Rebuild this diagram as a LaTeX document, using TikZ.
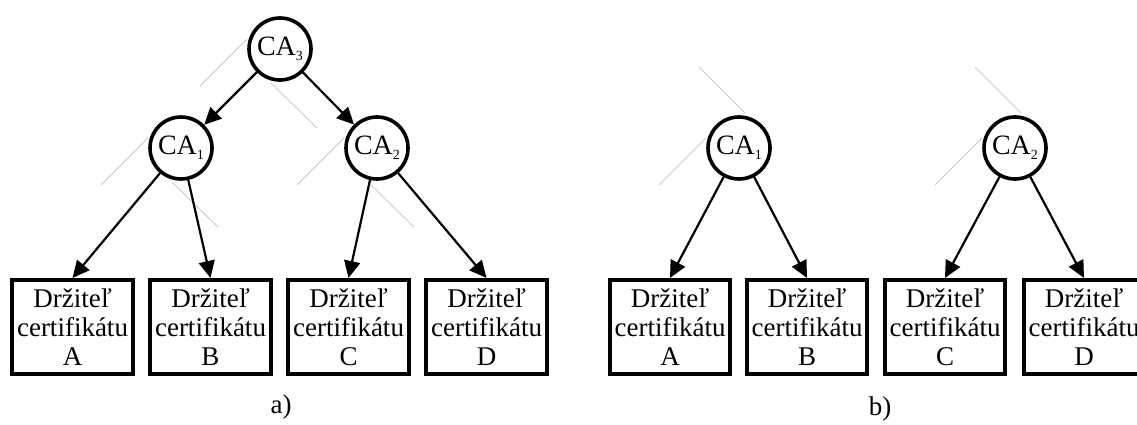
\documentclass[tikz,border=0pt]{standalone}
\usepackage{fontspec}
\setmainfont{Liberation Serif}
\usetikzlibrary{arrows.meta}
\newcommand{\casub}[1]{CA\raisebox{-5pt}{\fontsize{14}{14}\selectfont #1}}
\begin{document}
\begin{tikzpicture}[x=1pt,y=-1pt,
  ca/.style={circle,draw,line width=3.6pt,minimum size=62pt,inner sep=0pt,font=\fontsize{28}{30}\selectfont},
  holder/.style={draw,line width=3.6pt,minimum width=120.5pt,minimum height=94.5pt,inner sep=0pt,align=center,font=\fontsize{27}{29}\selectfont},
  link/.style={line width=2.2pt,-{Triangle[length=17pt,width=16pt]}},
  ghost/.style={draw=black!22,line width=0.8pt},
  caption/.style={font=\fontsize{27}{29}\selectfont}]
\useasboundingbox (0,0) rectangle (1137,425);
% part a
\node[ca] (a3) at (280,49) {\casub{3}};
\node[ca] (a1) at (181,148) {\casub{1}};
\node[ca] (a2) at (377,148) {\casub{2}};
\node[holder] (aA) at (72.5,327) {Držiteľ\\certifikátu\\A};
\node[holder] (aB) at (210.5,327) {Držiteľ\\certifikátu\\B};
\node[holder] (aC) at (348.5,327) {Držiteľ\\certifikátu\\C};
\node[holder] (aD) at (486.5,327) {Držiteľ\\certifikátu\\D};
\node[caption] (la) at (281,407) {a)};
% part b
\node[ca] (b1) at (739,148) {\casub{1}};
\node[ca] (b2) at (1015,148) {\casub{2}};
\node[holder] (bA) at (670,327) {Držiteľ\\certifikátu\\A};
\node[holder] (bB) at (807,327) {Držiteľ\\certifikátu\\B};
\node[holder] (bC) at (945,327) {Držiteľ\\certifikátu\\C};
\node[holder] (bD) at (1084,327) {Držiteľ\\certifikátu\\D};
\node[caption] (lb) at (880,409) {b)};
% faint lines
\foreach \cx/\cy in {280/49,181/148,377/148,739/148,1015/148}{
  \draw[ghost] (\cx-33,\cy-10) -- (\cx-80,\cy+37);
}
\foreach \cx/\cy in {280/49,181/148,377/148}{
  \draw[ghost] (\cx-9,\cy+34) -- (\cx+37,\cy+79);
}
\foreach \cx/\cy in {739/148,1015/148}{
  \draw[ghost] (\cx-40,\cy-81) -- (\cx+6,\cy-35);
}
% connectors
\draw[link] (a3) -- (a1);
\draw[link] (a3) -- (a2);
\draw[link] (a1) -- (aA.north);
\draw[link] (a1) -- (aB.north);
\draw[link] (a2) -- (aC.north);
\draw[link] (a2) -- (aD.north);
\draw[link] (b1) -- (bA.north);
\draw[link] (b1) -- (bB.north);
\draw[link] (b2) -- (bC.north);
\draw[link] (b2) -- (bD.north);
\end{tikzpicture}
\end{document}
